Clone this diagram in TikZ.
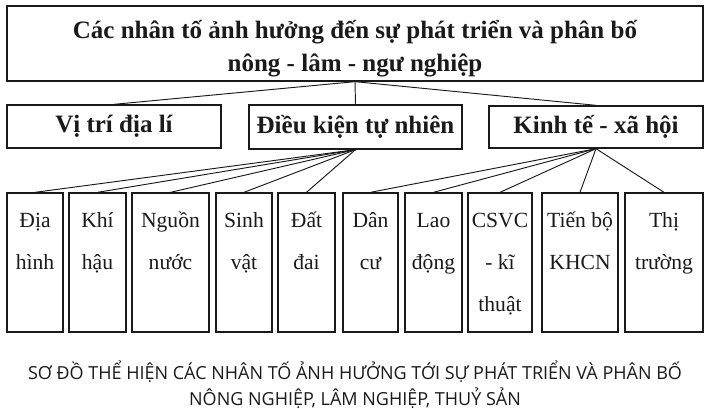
\documentclass[tikz,border=0pt]{standalone}
\usepackage{fontspec}
\setmainfont{Liberation Serif}
\newfontfamily\capfont{Open Sans}
\definecolor{ink}{HTML}{1A1A1A}
\begin{document}
\begin{tikzpicture}[x=0.75pt,y=-0.75pt,
  box/.style={draw=ink, line width=1pt, inner sep=0pt, rectangle},
  midbox/.style={box, font=\fontsize{18.75}{22}\selectfont\bfseries, text=ink},
  leaf/.style={box, minimum height=104.25pt},
  link/.style={draw=ink, line width=0.7pt},
  titletext/.style={inner sep=0pt, align=center, text=ink, font=\fontsize{18.75}{24.75}\selectfont\bfseries},
  leaftext/.style={inner sep=0pt, align=center, anchor=north, text=ink, font=\fontsize{16.2}{31.5}\selectfont},
  captext/.style={inner sep=0pt, align=center, text=ink, font=\capfont\fontsize{13.5}{17.25}\selectfont}]
\useasboundingbox[fill=white] (0,0) rectangle (710,409);
% top
\node[box, minimum width=522pt, minimum height=56.25pt] (top) at (355,43.5) {};
\node[titletext, anchor=north] (toptext) at (355,15.2) {\strut Các nhân tố ảnh hưởng đến sự phát triển và phân bố\\nông - lâm - ngư nghiệp};
% middle row
\node[midbox, minimum width=160.5pt, minimum height=32.25pt] (vt) at (114,126.5) {Vị trí địa lí};
\node[midbox, minimum width=159.75pt, minimum height=33pt] (dk) at (355.5,127) {Điều kiện tự nhiên};
\node[midbox, minimum width=160.5pt, minimum height=31.5pt] (kt) at (596,127) {Kinh tế - xã hội};
% leaves
\node[leaf, minimum width=42pt] (dh) at (35,262.5) {};
\node[leaf, minimum width=42.75pt] (kh) at (97.5,262.5) {};
\node[leaf, minimum width=57.75pt] (nn) at (170.5,262.5) {};
\node[leaf, minimum width=42pt] (sv) at (244,262.5) {};
\node[leaf, minimum width=42.75pt] (dd) at (306.5,262.5) {};
\node[leaf, minimum width=41.25pt] (dc) at (370.5,262.5) {};
\node[leaf, minimum width=42.75pt] (ld) at (433.5,262.5) {};
\node[leaf, minimum width=48pt] (cs) at (500,262.5) {};
\node[leaf, minimum width=57pt] (tb) at (580,262.5) {};
\node[leaf, minimum width=58.5pt] (tt) at (664,262.5) {};
\node[leaftext] (dht) at ([yshift=-4.2pt]dh.north) {\strut Địa\\hình};
\node[leaftext] (kht) at ([yshift=-4.2pt]kh.north) {\strut Khí\\hậu};
\node[leaftext] (nnt) at ([yshift=-4.2pt]nn.north) {\strut Nguồn\\nước};
\node[leaftext] (svt) at ([yshift=-4.2pt]sv.north) {\strut Sinh\\vật};
\node[leaftext] (ddt) at ([yshift=-4.2pt]dd.north) {\strut Đất\\đai};
\node[leaftext] (dct) at ([yshift=-4.2pt]dc.north) {\strut Dân\\cư};
\node[leaftext] (ldt) at ([yshift=-4.2pt]ld.north) {\strut Lao\\động};
\node[leaftext] (cst) at ([yshift=-4.2pt]cs.north) {\strut CSVC\\- kĩ\\thuật};
\node[leaftext] (tbt) at ([yshift=-4.2pt]tb.north) {\strut Tiến bộ\\KHCN};
\node[leaftext] (ttt) at ([yshift=-4.2pt]tt.north) {\strut Thị\\trường};
% connectors
\draw[link] (top.south) -- (vt.north);
\draw[link] (top.south) -- (dk.north);
\draw[link] (top.south) -- (kt.north);
\foreach \n in {dh,kh,nn,sv,dd} \draw[link] (dk.south) -- (\n.north);
\foreach \n in {dc,ld,cs,tb,tt} \draw[link] (kt.south) -- (\n.north);
% caption
\node[captext, anchor=north] (cap) at (355,360.9) {\strut SƠ ĐỒ THỂ HIỆN CÁC NHÂN TỐ ẢNH HƯỞNG TỚI SỰ PHÁT TRIỂN VÀ PHÂN BỐ\\NÔNG NGHIỆP, LÂM NGHIỆP, THUỶ SẢN};
\end{tikzpicture}
\end{document}
